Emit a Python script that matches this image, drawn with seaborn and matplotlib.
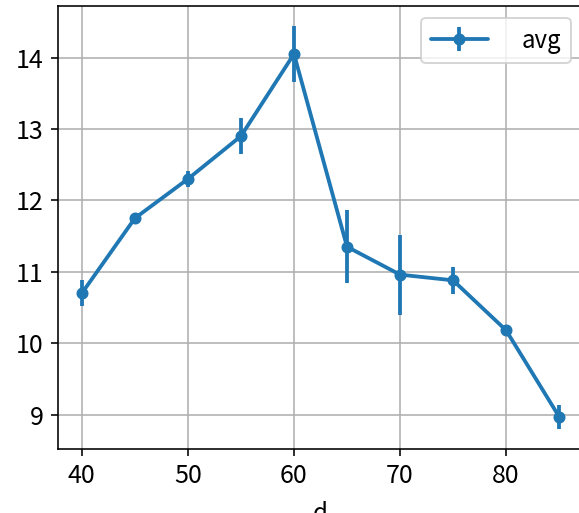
import matplotlib
matplotlib.use("Agg")
import matplotlib.pyplot as plt
import seaborn as sns

# data
d = [40, 45, 50, 55, 60, 65, 70, 75, 80, 85]
avg = [10.70, 11.75, 12.30, 12.90, 14.05, 11.35, 10.96, 10.88, 10.18, 8.97]
err = [0.18, 0.03, 0.11, 0.25, 0.39, 0.51, 0.56, 0.19, 0.06, 0.17]

sns.set_style("ticks", rc={
    "axes.grid": True,
    "grid.color": "#b0b0b0",
    "grid.linewidth": 0.8,
    "axes.edgecolor": "black",
    "axes.linewidth": 0.8,
    "xtick.color": "black",
    "ytick.color": "black",
    "text.color": "black",
    "axes.labelcolor": "black",
    "xtick.direction": "out",
    "ytick.direction": "out",
})
plt.rcParams['font.family'] = ['Noto Sans CJK JP', 'DejaVu Sans']
plt.rcParams['font.size'] = 12

fig = plt.figure(figsize=(579 / 144, 513 / 144), dpi=144)
ax = fig.add_axes([58 / 579, 64 / 513, 525 / 579, 443 / 513])

ax.errorbar(d, avg, yerr=err, fmt='o-', color='#1f77b4', lw=1.9,
            elinewidth=1.9, ms=5, label='avg')
ax.set_xlabel('d', fontsize=12, labelpad=6)
ax.set_xticks([40, 50, 60, 70, 80])
ax.set_yticks([9, 10, 11, 12, 13, 14])
ax.tick_params(labelsize=12.5, length=3.5, width=0.8)
ax.legend(loc='upper right', fontsize=12, handlelength=2.4, handletextpad=1.4)

fig.savefig('out.png', dpi=144)
